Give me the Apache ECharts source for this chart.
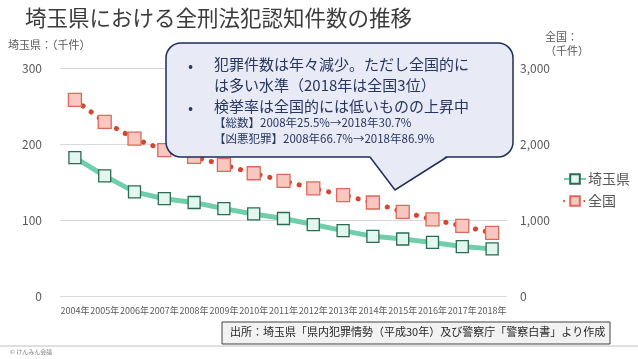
<!DOCTYPE html>
<html><head><meta charset="utf-8">
<script src="https://cdn.jsdelivr.net/npm/echarts@6/dist/echarts.min.js"></script>
<style>html,body{margin:0;padding:0;background:#fff}#c{width:638px;height:359px}</style>
</head><body><div id="c"></div>
<script>
const years = ['2004年','2005年','2006年','2007年','2008年','2009年','2010年','2011年','2012年','2013年','2014年','2015年','2016年','2017年','2018年'];
const saitama = [182, 158, 137, 128, 123, 115, 108, 102, 94, 86, 78.5, 75, 70.5, 65, 62];
const zenkoku = [2580, 2290, 2070, 1920, 1830, 1725, 1615, 1515, 1415, 1328, 1230, 1108, 1008, 922, 830];
const leftTicks = [0, 100, 200, 300];
const rightTicks = [0, 1000, 2000, 3000];

const FONT = '"Noto Sans CJK JP", "Noto Sans", sans-serif';
const chart = echarts.init(document.getElementById('c'));
chart.setOption({
  animation: false,
  textStyle: {fontFamily: FONT},
  grid: {left: 60, right: 131, top: 68, bottom: 63},
  xAxis: {
    type: 'category', data: years, boundaryGap: true,
    axisLine: {show: false}, axisTick: {show: false},
    axisLabel: {interval: 0, fontSize: 9, color: '#595959', margin: 10, fontFamily: FONT}
  },
  yAxis: [
    {type: 'value', min: leftTicks[0], max: leftTicks[3], interval: 100,
     axisLabel: {fontSize: 12, color: '#595959', margin: 18},
     splitLine: {lineStyle: {color: '#d9d9d9'}}},
    {type: 'value', min: rightTicks[0], max: rightTicks[3], interval: 1000,
     axisLabel: {fontSize: 12, color: '#595959', margin: 13, formatter: v => v.toLocaleString('en-US')},
     splitLine: {show: false}}
  ],
  legend: {
    orient: 'vertical', left: 558, top: 167, itemGap: 8, itemWidth: 22, itemHeight: 12,
    textStyle: {fontSize: 14, color: '#595959', fontFamily: FONT, padding: [0, 0, 0, -3]},
    data: ['埼玉県', '全国']
  },
  series: [
    {name: '埼玉県', type: 'line', yAxisIndex: 0, data: saitama,
     symbol: 'rect', symbolSize: 12,
     lineStyle: {color: '#6fcfab', width: 5},
     itemStyle: {color: '#e2f7ef', borderColor: '#2b6b52', borderWidth: 1.3},
     z: 3},
    {name: '全国', type: 'line', yAxisIndex: 1, data: zenkoku,
     symbol: 'rect', symbolSize: 13,
     lineStyle: {color: '#d4472f', width: 5, type: [0.1, 10], cap: 'round'},
     itemStyle: {color: '#f8c7c0', borderColor: '#e0685a', borderWidth: 1.3},
     z: 3}
  ],
  graphic: [
    {type: 'text', x: 25, y: 7, style: {text: '埼玉県における全刑法犯認知件数の推移', fontSize: 21.5, fill: '#3b3b3b', fontFamily: FONT}},
    {type: 'text', x: 8, y: 39, style: {text: '埼玉県：（千件）', fontSize: 11, fill: '#595959', fontFamily: FONT}},
    {type: 'text', x: 545, y: 30, style: {text: '全国：\n（千件）', fontSize: 11, lineHeight: 14, fill: '#595959', fontFamily: FONT}},
    {type: 'rect', z: 100, shape: {x: 166, y: 43, width: 347, height: 114, r: 15},
     style: {fill: '#e8eaf6', stroke: '#1f2d5a', lineWidth: 1.5}},
    {type: 'polygon', z: 101, shape: {points: [[369, 155], [395, 190], [448, 155]]},
     style: {fill: '#e8eaf6', stroke: null}},
    {type: 'polyline', z: 102, shape: {points: [[370, 157], [395, 190], [447, 157]]},
     style: {fill: null, stroke: '#1f2d5a', lineWidth: 1.5}},
    {type: 'text', z: 103, x: 188, y: 55, style: {text: '•\n\n•', fontSize: 15, lineHeight: 21, fill: '#26365e', fontFamily: FONT}},
    {type: 'text', z: 103, x: 214, y: 54, style: {text: '犯罪件数は年々減少。ただし全国的に\nは多い水準（2018年は全国3位）\n検挙率は全国的には低いものの上昇中', fontSize: 15, lineHeight: 21, fill: '#26365e', fontFamily: FONT}},
    {type: 'text', z: 103, x: 214, y: 115, style: {text: '【総数】2008年25.5%→2018年30.7%\n【凶悪犯罪】2008年66.7%→2018年86.9%', fontSize: 11.5, lineHeight: 16, fill: '#26365e', fontFamily: FONT}},
    {type: 'line', shape: {x1: 0, y1: 346, x2: 638, y2: 346}, style: {stroke: '#bfbfbf', lineWidth: 1}},
    {type: 'rect', shape: {x: 222, y: 322, width: 388, height: 22}, style: {fill: '#f2f2f2', stroke: '#404040', lineWidth: 1}},
    {type: 'text', x: 230, y: 326, style: {text: '出所：埼玉県「県内犯罪情勢（平成30年）及び警察庁「警察白書」より作成', fontSize: 11, fill: '#262626', fontFamily: FONT}},
    {type: 'text', x: 10, y: 349, style: {text: '© けんみん会議', fontSize: 6, fill: '#808080', fontFamily: FONT}}
  ]
});
</script></body></html>
